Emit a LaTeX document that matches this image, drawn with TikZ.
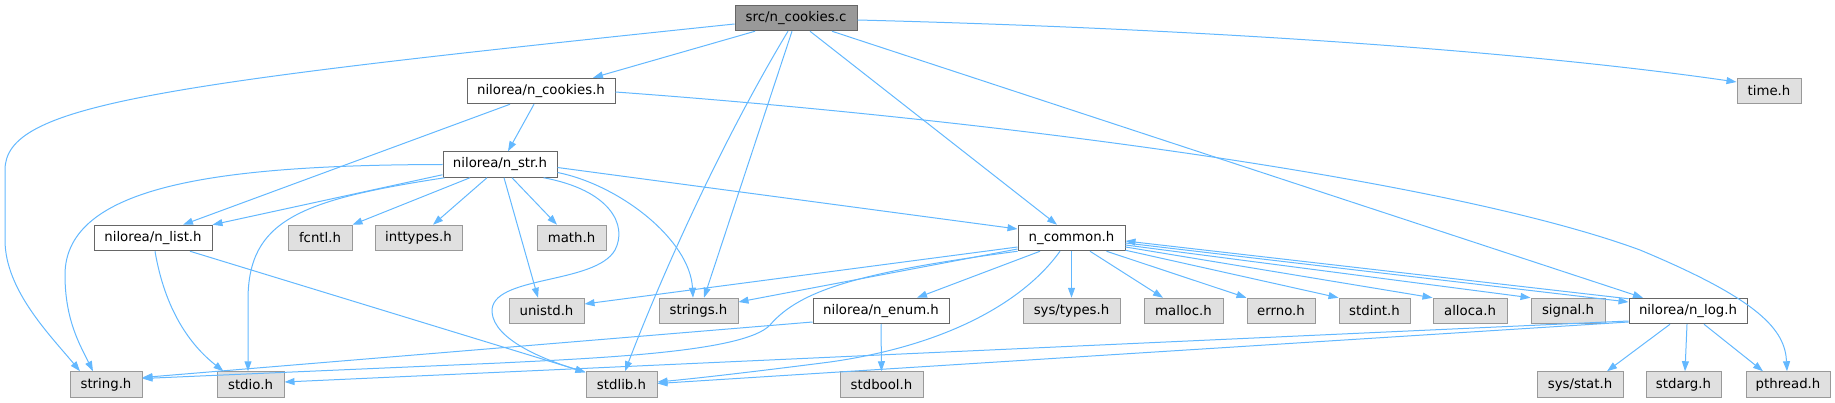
\documentclass[tikz,border=0pt]{standalone}
\usepackage{fontspec}
\setmainfont{DejaVu Sans}
\usetikzlibrary{arrows.meta,calc}
\definecolor{edgecol}{HTML}{63B8FF}
\definecolor{rootfill}{HTML}{999999}
\definecolor{darkdraw}{HTML}{666666}
\definecolor{sysfill}{HTML}{E0E0E0}
\definecolor{sysdraw}{HTML}{999999}
\tikzset{
  boxbase/.style={draw, line width=1pt, minimum height=25.5pt, inner sep=0pt, anchor=center,
    font=\fontsize{13.3pt}{16pt}\selectfont, text=black},
  rootbox/.style={boxbase, fill=rootfill, draw=darkdraw},
  localbox/.style={boxbase, fill=white, draw=darkdraw},
  sysbox/.style={boxbase, fill=sysfill, draw=sysdraw},
  dep/.style={draw=edgecol, line width=1pt, -{Triangle[length=10pt,width=7pt]}}
}
\begin{document}
\begin{tikzpicture}[x=1pt,y=-1pt]
\useasboundingbox (0,0) rectangle (1835,403);
% nodes
\node[rootbox, minimum width=122pt] (cookiesc) at (796,18) {src/n\_cookies.c};
\node[localbox, minimum width=148pt] (cookiesh) at (541,91) {nilorea/n\_cookies.h};
\node[sysbox, minimum width=64pt] (timeh) at (1769,91) {time.h};
\node[localbox, minimum width=114pt] (strh) at (500,164.5) {nilorea/n\_str.h};
\node[localbox, minimum width=118pt] (listh) at (153,238) {nilorea/n\_list.h};
\node[sysbox, minimum width=64pt] (fcntl) at (320,238) {fcntl.h};
\node[sysbox, minimum width=87pt] (inttypes) at (418.5,238) {inttypes.h};
\node[sysbox, minimum width=69pt] (math) at (571.5,238) {math.h};
\node[localbox, minimum width=107pt] (common) at (1071.5,238) {n\_common.h};
\node[sysbox, minimum width=75pt] (unistd) at (546.5,311) {unistd.h};
\node[sysbox, minimum width=79pt] (strings) at (698.5,311) {strings.h};
\node[localbox, minimum width=136pt] (enumh) at (881,311) {nilorea/n\_enum.h};
\node[sysbox, minimum width=97pt] (systypes) at (1071.5,311) {sys/types.h};
\node[sysbox, minimum width=79pt] (malloc) at (1183.5,311) {malloc.h};
\node[sysbox, minimum width=68pt] (errno) at (1281,311) {errno.h};
\node[sysbox, minimum width=71pt] (stdint) at (1374.5,311) {stdint.h};
\node[sysbox, minimum width=74pt] (alloca) at (1470,311) {alloca.h};
\node[sysbox, minimum width=74pt] (signal) at (1568,311) {signal.h};
\node[localbox, minimum width=118pt] (logh) at (1688,311) {nilorea/n\_log.h};
\node[sysbox, minimum width=72pt] (stringh) at (106,384.5) {string.h};
\node[sysbox, minimum width=67pt] (stdio) at (250.5,384.5) {stdio.h};
\node[sysbox, minimum width=71pt] (stdlib) at (621.5,384.5) {stdlib.h};
\node[sysbox, minimum width=83pt] (stdbool) at (881.5,384.5) {stdbool.h};
\node[sysbox, minimum width=86pt] (sysstat) at (1580,384.5) {sys/stat.h};
\node[sysbox, minimum width=75pt] (stdarg) at (1683.5,384.5) {stdarg.h};
\node[sysbox, minimum width=84pt] (pthread) at (1788,384.5) {pthread.h};
% edges from src/n_cookies.c
\draw[dep] ($(cookiesc.west)+(0,6)$) .. controls (150,85) and (5,105) .. (5,170) -- (5,240) .. controls (5,290) and (50,335) .. ($(stringh.north)+(-26,0)$);
\draw[dep] ($(cookiesc.south)+(-41,0)$) -- ($(cookiesh.north)+(52,0)$);
\draw[dep] ($(cookiesc.south)+(-8,0)$) .. controls (722,141) and (663,272) .. ($(stdlib.north)+(3.5,0)$);
\draw[dep] ($(cookiesc.south)+(-4,0)$) -- ($(strings.north)+(5.5,0)$);
\draw[dep] ($(cookiesc.south)+(14,0)$) -- ($(common.north)+(-14.5,0)$);
\draw[dep] ($(cookiesc.south)+(36,0)$) -- ($(logh.north)+(-45,0)$);
\draw[dep] ($(cookiesc.east)+(0,2)$) .. controls (1250,30) and (1550,55) .. ($(timeh.west)+(0,-9)$);
% edges from nilorea/n_cookies.h
\draw[dep] ($(cookiesh.south)+(-7,0)$) -- ($(strh.north)+(8,0)$);
\draw[dep] ($(cookiesh.south)+(-31,0)$) -- ($(listh.north)+(30,0)$);
\draw[dep] ($(cookiesh.east)+(0,1)$) .. controls (1000,120) and (1450,180) .. (1640,250) .. controls (1760,300) and (1785,330) .. ($(pthread.north)+(-1,0)$);
% edges from nilorea/n_str.h
\draw[dep] (strh.west) .. controls (220,165) and (65,185) .. (65,275) .. controls (65,320) and (80,345) .. ($(stringh.north)+(-13,0)$);
\draw[dep] ($(strh.south west)+(0,-3)$) -- (listh.north east);
\draw[dep] ($(strh.south west)+(2,0)$) .. controls (300,200) and (248,220) .. (248,300) -- ($(stdio.north)+(-2.5,0)$);
\draw[dep] ($(strh.south)+(-30,0)$) -- (fcntl.north east);
\draw[dep] ($(strh.south)+(-13,0)$) -- ($(inttypes.north)+(14.5,0)$);
\draw[dep] ($(strh.south)+(12,0)$) -- ($(math.north)+(-14.5,0)$);
\draw[dep] ($(strh.south)+(4,0)$) -- ($(unistd.north)+(-8.5,0)$);
\draw[dep] ($(strh.south east)+(-14,0)$) .. controls (610,190) and (628,225) .. (615,250) .. controls (595,285) and (490,275) .. (492,312) .. controls (494,340) and (545,360) .. ($(stdlib.north west)+(0,1)$);
\draw[dep] ($(strh.east)+(0,8)$) .. controls (620,185) and (690,240) .. ($(strings.north)+(-5.5,0)$);
\draw[dep] ($(strh.east)+(0,3)$) -- ($(common.west)+(0,-9)$);
% edges from nilorea/n_list.h
\draw[dep] ($(listh.south)+(2,0)$) .. controls (165,310) and (190,345) .. ($(stdio.north)+(-27,0)$);
\draw[dep] ($(listh.south)+(37,0)$) -- ($(stdlib.north west)+(0,1)$);
% edges from n_common.h
\draw[dep] ($(common.west)+(0,9)$) -- ($(unistd.east)+(0,-7)$);
\draw[dep] ($(common.west)+(0,11)$) -- ($(strings.east)+(0,-9)$);
\draw[dep] (common.south west) .. controls (860,272) and (800,290) .. (770,325) .. controls (745,352) and (600,358) .. (500,363) -- ($(stringh.east)+(0,-6)$);
\draw[dep] ($(common.south)+(-11.5,0)$) .. controls (1025,300) and (950,345) .. (830,362) .. controls (760,371) and (700,378) .. ($(stdlib.east)+(0,-2.5)$);
\draw[dep] ($(common.south)+(-31.5,0)$) -- ($(enumh.north)+(36,0)$);
\draw[dep] (common.south) -- (systypes.north);
\draw[dep] ($(common.south)+(18.5,0)$) -- ($(malloc.north)+(-20.5,0)$);
\draw[dep] ($(common.south)+(35,0)$) -- (errno.north west);
\draw[dep] ($(common.south east)+(0,-1)$) -- (stdint.north west);
\draw[dep] ($(common.east)+(0,9)$) -- (alloca.north west);
\draw[dep] ($(common.east)+(0,7)$) -- (signal.north west);
\draw[dep] ($(common.east)+(0,5)$) -- ($(logh.west)+(0,-9)$);
% edges from nilorea/n_enum.h
\draw[dep] ($(enumh.west)+(0,11)$) -- ($(stringh.east)+(0,-7)$);
\draw[dep] (enumh.south) -- (stdbool.north);
% edges from nilorea/n_log.h
\draw[dep] ($(logh.north west)+(0,1)$) -- ($(common.east)+(0,3)$);
\draw[dep] ($(logh.west)+(0,10)$) -- ($(stdio.east)+(0,-2.5)$);
\draw[dep] ($(logh.west)+(0,11)$) -- ($(stdlib.east)+(0,-1)$);
\draw[dep] ($(logh.south)+(-18,0)$) -- ($(sysstat.north)+(27,0)$);
\draw[dep] ($(logh.south)+(-1,0)$) -- ($(stdarg.north)+(1.5,0)$);
\draw[dep] ($(logh.south)+(16,0)$) -- ($(pthread.north)+(-25,0)$);
\end{tikzpicture}
\end{document}
